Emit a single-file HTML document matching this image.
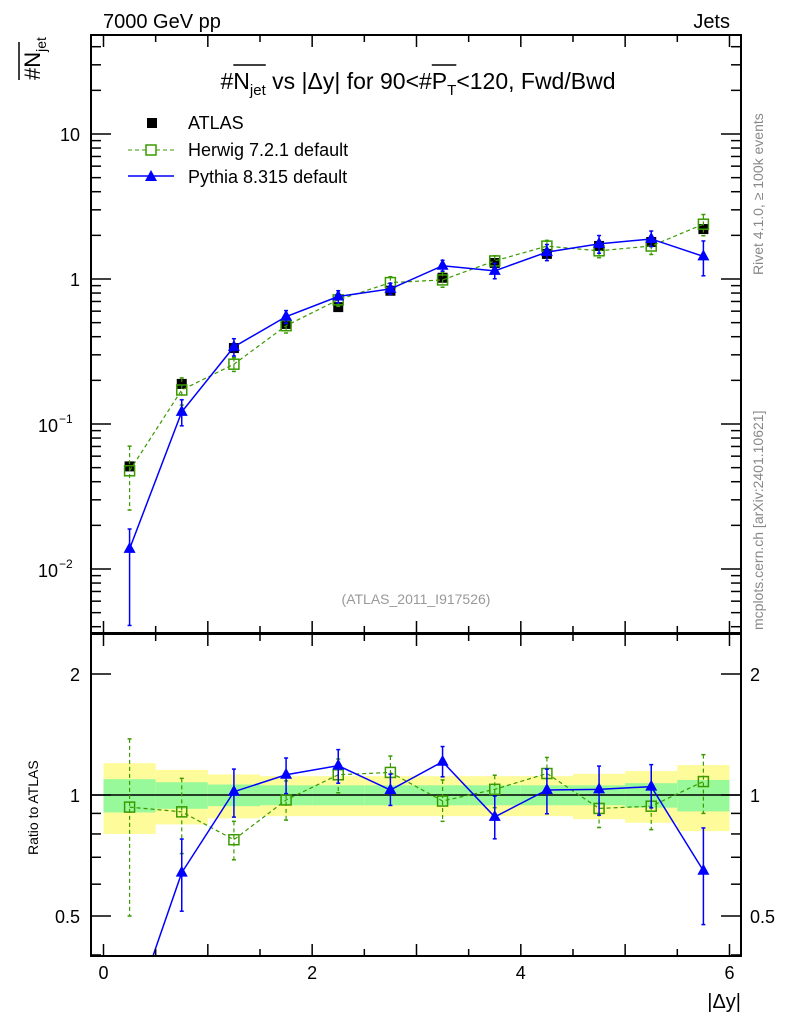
<!DOCTYPE html>
<html><head><meta charset="utf-8"><style>
html,body{margin:0;background:#fff;overflow:hidden;width:786px;height:1024px;}
svg{display:block;}
svg text{font-family:"Liberation Sans",sans-serif;}
</style></head><body>
<svg id="c" width="786" height="1024" xmlns="http://www.w3.org/2000/svg">
<text x="103" y="28" font-size="20">7000 GeV pp</text>
<text x="730" y="28" font-size="20" text-anchor="end">Jets</text>
<text transform="translate(763,275) rotate(-90)" font-size="14" fill="#888">Rivet 4.1.0, ≥ 100k events</text>
<text transform="translate(763,630) rotate(-90)" font-size="14" fill="#888">mcplots.cern.ch [arXiv:2401.10621]</text>
<text id="title" x="418" y="89" font-size="23" text-anchor="middle">#N<tspan font-size="15" dy="6">jet</tspan><tspan dy="-6"> vs |Δy| for 90&lt;#P</tspan><tspan font-size="15" dy="6">T</tspan><tspan dy="-6">&lt;120, Fwd/Bwd</tspan></text>
<text id="ytitle" transform="translate(40,80) rotate(-90)" font-size="22">#N<tspan font-size="14" dy="6">jet</tspan></text>
<text transform="translate(38,855) rotate(-90)" font-size="14">Ratio to ATLAS</text>
<text x="741" y="1008" font-size="20" text-anchor="end">|Δy|</text>
<text x="416" y="604" font-size="14" fill="#999" text-anchor="middle">(ATLAS_2011_I917526)</text>
<g id="legend">
<rect x="147" y="118" width="10" height="10" fill="#000"/>
<text x="188" y="129" font-size="18">ATLAS</text>
<line x1="128" y1="150" x2="174" y2="150" stroke="#3a9a00" stroke-dasharray="4,3"/>
<rect x="146" y="145" width="10" height="10" fill="#fff" stroke="#3a9a00" stroke-width="1.5"/>
<text x="188" y="156" font-size="18">Herwig 7.2.1 default</text>
<line x1="128" y1="176" x2="174" y2="176" stroke="#00f" stroke-width="1.5"/>
<polygon points="151,170 157,181 145,181" fill="#00f"/>
<text x="188" y="183" font-size="18">Pythia 8.315 default</text>
</g>
</svg>
<script>
const xCenters=[0.25,0.75,1.25,1.75,2.25,2.75,3.25,3.75,4.25,4.75,5.25,5.75];
const atlasVals=[0.051,0.189,0.334,0.49,0.64,0.83,1.02,1.29,1.49,1.69,1.80,2.21];
const atlasTot=[0.2,0.155,0.125,0.114,0.114,0.114,0.114,0.114,0.114,0.129,0.147,0.187];
const atlasStat=[0.095,0.076,0.062,0.057,0.057,0.057,0.057,0.057,0.057,0.057,0.07,0.09];
const herwigRatio=[0.933,0.908,0.774,0.972,1.123,1.138,0.966,1.033,1.131,0.926,0.938,1.080];
const herwigErrUp=[1.379,1.10,0.86,1.084,1.229,1.25,1.09,1.12,1.24,1.02,1.06,1.26];
const herwigErrDn=[0.50,0.715,0.69,0.866,1.013,1.03,0.86,0.93,1.02,0.83,0.82,0.90];
const pythiaRatio=[0.27,0.641,1.019,1.123,1.183,1.029,1.21,0.882,1.029,1.033,1.049,0.648];
const pythiaErrUp=[0.37,0.777,1.16,1.236,1.297,1.127,1.32,0.994,1.16,1.18,1.19,0.828];
const pythiaErrDn=[0.08,0.514,0.881,1.008,1.07,0.942,1.11,0.778,0.898,0.891,0.929,0.476];
const xTicks=[0,2,4,6];
const ratioTicks=[2,1,0.5];

const NS='http://www.w3.org/2000/svg';
const svg=document.getElementById('c');
const L=91,R=741,T1=35,B1=633,T2=634,B2=956;
const X=v=>103.5+v*104.33;
const Y=v=>279-145*Math.log10(v);
const YR=v=>795-402*Math.log10(v);
function el(tag,a,p){const e=document.createElementNS(NS,tag);for(const k in a)e.setAttribute(k,a[k]);(p||svg).appendChild(e);return e;}
const defs=el('defs',{});
const c1=el('clipPath',{id:'ct'},defs);el('rect',{x:L,y:T1,width:R-L,height:B1-T1},c1);
const c2=el('clipPath',{id:'cr'},defs);el('rect',{x:L,y:T2,width:R-L,height:B2-T2},c2);
const gTop=el('g',{'clip-path':'url(#ct)'});
const gR=el('g',{'clip-path':'url(#cr)'});

const tt=document.getElementById('title');
function over(i0,i1,y){const a=tt.getStartPositionOfChar(i0).x,b=tt.getEndPositionOfChar(i1).x;el('line',{x1:a,x2:b,y1:y,y2:y,stroke:'#000','stroke-width':1.5});}
try{over(1,4,65);const s=tt.textContent;const p=s.indexOf('#P');over(p+1,p+2,65);}catch(e){}
el('line',{x1:19,x2:19,y1:80,y2:42,stroke:'#000','stroke-width':1.5});

xCenters.forEach((x,i)=>{
  const y=el('rect',{x:X(x-0.25),y:YR(1+atlasTot[i]),width:X(0.5)-X(0),height:YR(1-atlasTot[i])-YR(1+atlasTot[i]),fill:'#fdfb9a'},gR);
  
  
  const g=el('rect',{x:X(x-0.25),y:YR(1+atlasStat[i]),width:X(0.5)-X(0),height:YR(1-atlasStat[i])-YR(1+atlasStat[i]),fill:'#98f99a'},gR);
  
  
});
el('line',{x1:L,x2:R,y1:YR(1),y2:YR(1),stroke:'#000','stroke-width':1.5},gR);

function series(g,vals,up,dn,color,dash,marker,name,yf,noLine){
  if(!noLine){
  const pts=xCenters.map((x,i)=>X(x)+','+yf(vals[i])).join(' ');
  const pl=el('polyline',{points:pts,fill:'none',stroke:color,'stroke-width':dash?1.2:1.5,'stroke-dasharray':dash?'4,3':'none'},g);
  
  
  }
  xCenters.forEach((x,i)=>{
    const cx=X(x);
    const e=el('line',{x1:cx,x2:cx,y1:yf(up[i]),y2:yf(dn[i]),stroke:color,'stroke-width':dash?1.2:1.5,'stroke-dasharray':dash?'4,3':'none'},g);
    
    
    el('line',{x1:cx-2,x2:cx+2,y1:yf(up[i]),y2:yf(up[i]),stroke:color,'stroke-width':1.5},g);
    el('line',{x1:cx-2,x2:cx+2,y1:yf(dn[i]),y2:yf(dn[i]),stroke:color,'stroke-width':1.5},g);
    const cy=yf(vals[i]);let m;
    if(marker==='sq')m=el('rect',{x:cx-5,y:cy-5,width:10,height:10,fill:'#000'},g);
    if(marker==='osq')m=el('rect',{x:cx-5,y:cy-5,width:10,height:10,fill:'none',stroke:color,'stroke-width':1.5},g);
    if(marker==='tri')m=el('polygon',{points:`${cx},${cy-7} ${cx+6},${cy+4} ${cx-6},${cy+4}`,fill:color},g);
    
    
  });
}
const aUp=atlasVals.map((v,i)=>v*(1+atlasStat[i]*0.5)),aDn=atlasVals.map((v,i)=>v*(1-atlasStat[i]*0.5));
series(gTop,atlasVals,aUp,aDn,'#000',false,'sq','atlas',Y,true);
series(gTop,atlasVals.map((v,i)=>v*herwigRatio[i]),atlasVals.map((v,i)=>v*herwigErrUp[i]),atlasVals.map((v,i)=>v*herwigErrDn[i]),'#3a9a00',true,'osq','herwig',Y);
series(gTop,atlasVals.map((v,i)=>v*pythiaRatio[i]),atlasVals.map((v,i)=>v*pythiaErrUp[i]),atlasVals.map((v,i)=>v*pythiaErrDn[i]),'#00f',false,'tri','pythia',Y);
series(gR,herwigRatio,herwigErrUp,herwigErrDn,'#3a9a00',true,'osq','herwig-ratio',YR);
series(gR,pythiaRatio,pythiaErrUp,pythiaErrDn,'#00f',false,'tri','pythia-ratio',YR);

el('rect',{x:L,y:T1,width:R-L,height:B1-T1,fill:'none',stroke:'#000','stroke-width':2});
el('rect',{x:L,y:T2,width:R-L,height:B2-T2,fill:'none',stroke:'#000','stroke-width':2});
for(let k=0;k<=12;k++){const v=k/2,x=X(v),len=(k%2===0)?12:7;
 [[T1,1],[B1,-1],[T2,1],[B2,-1]].forEach(([y,d])=>el('line',{x1:x,x2:x,y1:y,y2:y+d*len,stroke:'#000','stroke-width':1.5}));}
xTicks.forEach(v=>{const t=el('text',{x:X(v),y:979,'font-size':18,'text-anchor':'middle'});t.textContent=v;
 });
for(let d=-3;d<=1;d++)for(let m=1;m<=9;m++){const v=m*Math.pow(10,d),y=Y(v);if(y<T1||y>B1)continue;const len=m===1?20:10;
 el('line',{x1:L,x2:L+len,y1:y,y2:y,stroke:'#000','stroke-width':1.5});el('line',{x1:R,x2:R-len,y1:y,y2:y,stroke:'#000','stroke-width':1.5});}
[[10,'10'],[1,'1']].forEach(([v,s])=>{const t=el('text',{x:80,y:Y(v)+7,'font-size':18,'text-anchor':'end'});t.textContent=s;
 });
[[0.1,'−1'],[0.01,'−2']].forEach(([v,s])=>{const t=el('text',{x:58,y:Y(v)+8,'font-size':18,'text-anchor':'end'});t.textContent='10';
 
 const e=el('text',{x:59,y:Y(v)-1,'font-size':12});e.textContent=s;});
for(let d=-1;d<=0;d++)for(let m=1;m<=9;m++){const v=m*Math.pow(10,d),y=YR(v);if(y<T2||y>B2)continue;const len=[1,2,5].includes(m)?20:10;
 el('line',{x1:L,x2:L+len,y1:y,y2:y,stroke:'#000','stroke-width':1.5});el('line',{x1:R,x2:R-len,y1:y,y2:y,stroke:'#000','stroke-width':1.5});}
ratioTicks.forEach(v=>{[[80,'end'],[750,'start']].forEach(([x,a])=>{const t=el('text',{x:x,y:YR(v)+7,'font-size':18,'text-anchor':a});t.textContent=v;
 });});
</script>
</body></html>
